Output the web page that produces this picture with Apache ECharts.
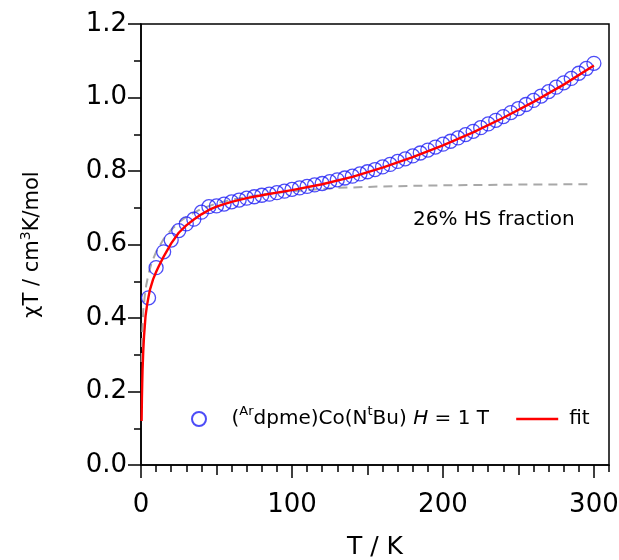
<!DOCTYPE html>
<html><head><meta charset="utf-8">
<script src="https://cdn.jsdelivr.net/npm/echarts@6/dist/echarts.min.js"></script>
<style>html,body{margin:0;padding:0;background:#fff}#c{width:619px;height:560px}</style>
</head><body><div id="c"></div>
<script>
// measured data (T in K, chiT in cm3 K/mol)
const dataT = [5,10,15,20,25,30,35,40,45,50,55,60,65,70,75,80,85,90,95,100,105,110,115,120,125,130,135,140,145,150,155,160,165,170,175,180,185,190,195,200,205,210,215,220,225,230,235,240,245,250,255,260,265,270,275,280,285,290,295,300];
const dataChiT = [0.455,0.537,0.580,0.612,0.638,0.656,0.669,0.688,0.703,0.705,0.710,0.716,0.721,0.726,0.730,0.734,0.737,0.741,0.745,0.750,0.754,0.758,0.762,0.766,0.771,0.776,0.781,0.786,0.792,0.798,0.804,0.811,0.818,0.826,0.833,0.841,0.849,0.857,0.865,0.873,0.881,0.890,0.899,0.908,0.918,0.928,0.938,0.948,0.959,0.970,0.981,0.992,1.004,1.016,1.028,1.040,1.052,1.066,1.079,1.093];
// fit curve
const fitT = [0.4,0.6,0.8,1,1.5,2,3,4,5,6,8,10,12,15,20,25,30,35,40,45,50,55,60,70,80,90,100,120,140,160,180,200,220,240,260,280,300];
const fitChiT = [0.12,0.18,0.22,0.255,0.31,0.35,0.405,0.435,0.458,0.478,0.505,0.525,0.543,0.567,0.603,0.632,0.652,0.668,0.682,0.694,0.703,0.710,0.716,0.726,0.734,0.741,0.748,0.764,0.784,0.809,0.838,0.870,0.905,0.945,0.988,1.035,1.087];
// 26% HS fraction curve
const hsT = [0.4,0.8,1.5,2.5,3.5,5,7,10,15,20,25,30,40,50,60,80,100,130,160,200,250,296];
const hsChiT = [0.28,0.36,0.42,0.46,0.49,0.52,0.55,0.58,0.615,0.64,0.66,0.675,0.697,0.712,0.722,0.736,0.745,0.754,0.758,0.761,0.763,0.764];
// ticks
const xLabelTicks = [0,100,200,300];
const xMidTicks = [0,50,100,150,200,250,300];
const yLabelTicks = [0,0.2,0.4,0.6,0.8,1.0,1.2];

const FONT = 'DejaVu Sans';
const zip = (a,b) => a.map((v,i)=>[v,b[i]]);
const chart = echarts.init(document.getElementById('c'), null, {renderer:'canvas'});
const blk = {color:'#000', width:1.5};
const baseX = {type:'value', min:0, max:310, position:'bottom', splitLine:{show:false}, axisLabel:{show:false}, axisLine:{show:false}};
chart.setOption({
  animation:false,
  backgroundColor:'#fff',
  grid:{left:141, right:10, top:24, bottom:95, containLabel:false, outerBoundsMode:'none',
        show:true, borderColor:'#000', borderWidth:1.5, backgroundColor:'transparent'},
  xAxis:[
    Object.assign({}, baseX, {interval:10, axisLine:{show:true, onZero:false, lineStyle:blk}, axisTick:{show:true, inside:false, length:7, lineStyle:blk}}),
    Object.assign({}, baseX, {interval:50, axisTick:{show:true, inside:false, length:10, lineStyle:blk, customValues:xMidTicks}}),
    Object.assign({}, baseX, {interval:100,
      axisTick:{show:true, inside:false, length:13, lineStyle:blk, customValues:xLabelTicks},
      axisLabel:{show:true, customValues:xLabelTicks, formatter:v=> xLabelTicks.includes(v)? String(v):'', fontSize:26, fontFamily:FONT, color:'#000', margin:27},
      name:'T / K', nameLocation:'middle', nameGap:70, nameTextStyle:{fontSize:25, fontFamily:FONT, color:'#000'}})
  ],
  yAxis:{type:'value', min:0, max:1.2, interval:0.2, splitLine:{show:false},
    axisLine:{show:true, onZero:false, lineStyle:blk},
    axisTick:{show:true, inside:false, length:13, lineStyle:blk},
    minorTick:{show:true, splitNumber:2, length:7, lineStyle:blk},
    minorSplitLine:{show:false},
    axisLabel:{fontSize:26, fontFamily:FONT, color:'#000', margin:14, formatter:v=>v.toFixed(1)},
    name:'{n|χT / cm}{s|3}{n|K/mol}', nameLocation:'middle', nameGap:94, nameRotate:90,
    nameTextStyle:{color:'#000', rich:{
      n:{fontSize:21, fontFamily:FONT, color:'#000', lineHeight:28},
      s:{fontSize:14, fontFamily:FONT, color:'#000', lineHeight:14, verticalAlign:'top'}}}
  },
  legend:[
    {data:['sample'], left:191, top:405, itemWidth:55, itemHeight:14, padding:0,
     formatter:()=>'{n|(}{s|Ar}{n|dpme)Co(N}{s|t}{n|Bu) }{i|H}{n| = 1 T}',
     textStyle:{rich:{
       n:{fontSize:20, fontFamily:FONT, color:'#000', lineHeight:28},
       i:{fontSize:20, fontFamily:FONT, color:'#000', lineHeight:28, fontStyle:'italic'},
       s:{fontSize:13, fontFamily:FONT, color:'#000', lineHeight:13, verticalAlign:'top'}}}},
    {data:['fit'], left:515, top:405, itemWidth:42, itemHeight:14, padding:0,
     itemStyle:{opacity:0, color:'transparent', borderWidth:0},
     lineStyle:{color:'#ff0000', width:2.4, opacity:1},
     textStyle:{fontSize:20, fontFamily:FONT, color:'#000', padding:[0,0,0,6], lineHeight:28}}
  ],
  graphic:[{type:'text', x:413, y:220, style:{text:'26% HS fraction', fontSize:20, fontFamily:FONT, fill:'#000', verticalAlign:'middle'}}],
  series:[
    {name:'26% HS fraction', type:'line', data:zip(hsT,hsChiT), symbol:'none', silent:true,
     lineStyle:{color:'#a8a8a8', width:2, type:[9,6]}, z:1},
    {name:'sample', type:'scatter', data:zip(dataT,dataChiT), symbol:'circle', symbolSize:14,
     itemStyle:{color:'transparent', borderColor:'#1f1ff5', borderWidth:1.3}, z:2},
    {name:'fit', type:'line', data:zip(fitT,fitChiT), symbol:'none', showSymbol:false,
     lineStyle:{color:'#ff0000', width:2.4}, itemStyle:{color:'#ff0000'}, z:3}
  ]
});
</script></body></html>
